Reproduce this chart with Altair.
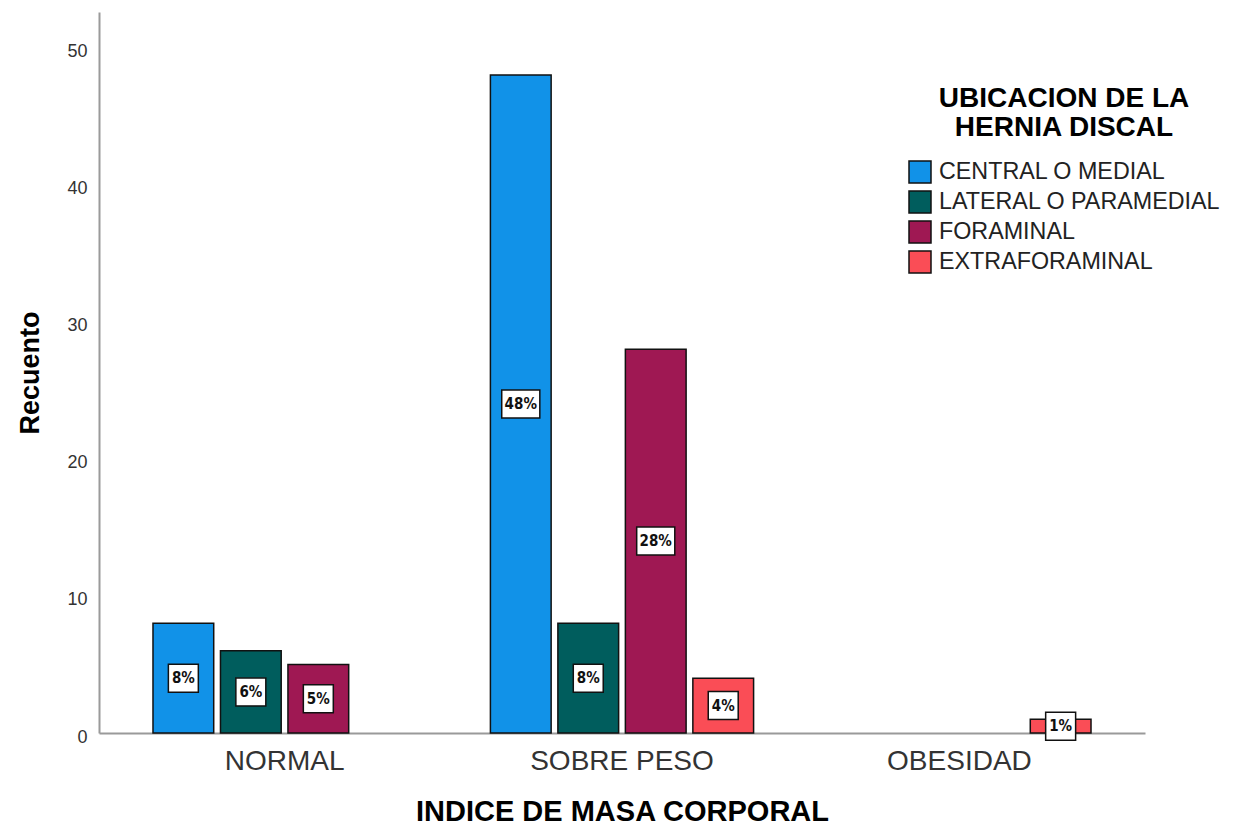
import altair as alt
import pandas as pd

categories = ["NORMAL", "SOBRE PESO", "OBESIDAD"]
series = ["CENTRAL O MEDIAL", "LATERAL O PARAMEDIAL", "FORAMINAL", "EXTRAFORAMINAL"]
central = [8, 48, 0]
lateral = [6, 8, 0]
foraminal = [5, 28, 0]
extraforaminal = [0, 4, 1]
pct_central = ["8%", "48%", ""]
pct_lateral = ["6%", "8%", ""]
pct_foraminal = ["5%", "28%", ""]
pct_extraforaminal = ["", "4%", "1%"]
colors = ["#1192e8", "#005d5d", "#9f1853", "#fa4d56"]
y_ticks = [0, 10, 20, 30, 40, 50]

values = [central, lateral, foraminal, extraforaminal]
pcts = [pct_central, pct_lateral, pct_foraminal, pct_extraforaminal]
rows = []
for s, vals, pc in zip(series, values, pcts):
    for c, v, p in zip(categories, vals, pc):
        rows.append({"cat": c, "ser": s, "count": v, "pct": p,
                     "mid": v / 2, "nd": "w" if len(p) > 2 else "n"})
df = pd.DataFrame(rows)

FONT = "Liberation Sans"

x_enc = alt.X("cat:N", sort=categories,
              scale=alt.Scale(domain=categories, paddingInner=0.2, paddingOuter=0.15),
              axis=alt.Axis(title="INDICE DE MASA CORPORAL", labelAngle=0, ticks=False,
                            labelFontSize=28, labelColor="#333333", labelPadding=14,
                            labelLimit=500,
                            labelFont=FONT, titleFont=FONT, titleFontSize=29,
                            titleFontWeight="bold", titleColor="#000000", titlePadding=22,
                            domainColor="#9a9a9a", domainWidth=2))
xoff_enc = alt.XOffset("ser:N", sort=series,
                       scale=alt.Scale(domain=series, paddingInner=0.1, paddingOuter=0.05))

bars = alt.Chart(df).mark_bar(stroke="#111111", strokeWidth=1.5).encode(
    x=x_enc,
    xOffset=xoff_enc,
    y=alt.Y("count:Q", scale=alt.Scale(domain=[0, 52.6], nice=False),
            axis=alt.Axis(title="Recuento", values=y_ticks, ticks=False, grid=False,
                          labelFontSize=18, labelColor="#333333", labelPadding=12,
                          labelOffset=4,
                          labelFont=FONT, titleFont=FONT, titleFontSize=27,
                          titleFontWeight="bold", titleColor="#000000", titlePadding=22,
                          domainColor="#9a9a9a", domainWidth=2)),
    color=alt.Color("ser:N", sort=series,
                    scale=alt.Scale(domain=series, range=colors),
                    legend=alt.Legend(title=["UBICACION DE LA", "HERNIA DISCAL"],
                                      orient="none", legendX=809, legendY=73,
                                      titleFontSize=28, titleFont=FONT, titleFontWeight="bold",
                                      titleColor="#000000", titleAnchor="middle",
                                      titleAlign="center", titleLineHeight=29,
                                      titleLimit=600, titlePadding=18,
                                      labelFontSize=23.3, labelFont=FONT, labelColor="#222222",
                                      labelLimit=600, labelOffset=7,
                                      symbolType="square", symbolSize=484,
                                      symbolStrokeColor="#111111", symbolStrokeWidth=1.5,
                                      symbolOpacity=1, rowPadding=2, padding=0)),
).transform_filter("datum.count > 0")

boxes = alt.Chart(df).mark_point(filled=True, fill="white", stroke="#111111",
                                 strokeWidth=1.5, opacity=1, size=784).encode(
    x=alt.X("cat:N", sort=categories),
    xOffset=alt.XOffset("ser:N", sort=series),
    y=alt.Y("mid:Q"),
    shape=alt.Shape("nd:N", scale=alt.Scale(domain=["n", "w"],
                    range=["M-1.07,-1H1.07V1H-1.07Z", "M-1.36,-1H1.36V1H-1.36Z"]),
                    legend=None),
).transform_filter("datum.count > 0")

labels = alt.Chart(df).mark_text(font="Liberation Sans Narrow, DejaVu Sans Condensed, Liberation Sans",
                                 fontWeight="bold", fontSize=15, color="#111111",
                                 baseline="middle", align="center").encode(
    x=alt.X("cat:N", sort=categories),
    xOffset=alt.XOffset("ser:N", sort=series),
    y=alt.Y("mid:Q"),
    text="pct:N",
).transform_filter("datum.count > 0")

chart = alt.layer(bars, boxes, labels).properties(
    width=1046, height=721,
    autosize=alt.AutoSizeParams(type="none"),
    padding={"left": 91, "top": 4, "right": 80, "bottom": 96},
).configure_view(stroke=None).configure_axis(grid=False)

chart.save("out.html", embed_options={"renderer": "svg", "actions": False})
